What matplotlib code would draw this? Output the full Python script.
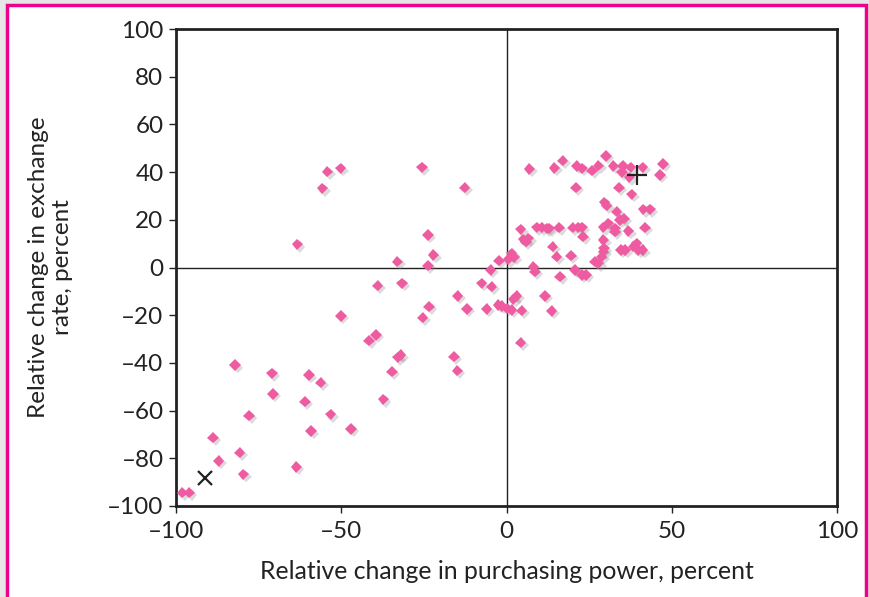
import matplotlib
matplotlib.use("Agg")
import matplotlib.pyplot as plt
import matplotlib.patheffects as pe
from matplotlib.patches import Rectangle

# Data: relative change in purchasing power (x) vs exchange rate (y), percent
x_vals = [
    -54.2, -50.2, -55.7, -25.6, -12.7, -63.3, -23.8, -22.1, -33.0, -23.8, -2.3, -4.8,
    6.9, 14.5, 17.0, 21.2, 22.8, 25.9, 27.8, 30.1, 32.3, 35.2, 34.9, 37.6, 37.2, 41.2,
    47.4, 46.4, 21.0, 34.0, 37.9, 29.6, 30.3, 33.3, 41.4, 43.4, 34.3, 35.5, 30.8, 29.3,
    32.8, 32.8, 36.9, 41.9, 4.3, 9.1, 10.6, 12.2, 13.0, 15.9, 20.0, 21.7, 22.8, 23.2,
    5.1, 6.6, 5.9, 29.3, 14.0, 15.2, 19.5, 29.5, 29.3, 28.8, 34.6, 35.9, 38.4, 39.4,
    41.2, 39.9, 26.8, 27.8, 20.7, 1.6, 2.3, 0.6, 8.1, 8.6, 16.2, 22.8, 24.1,
    3.1, 2.1, 11.6, 0.1, 1.6, 4.6, 13.7, 4.3,
    -39.0, -31.6, -7.5, -4.5, -14.8, -12.0, -23.4, -25.4, -6.0, -2.5, -1.5, -50.1,
    -41.6, -39.5, -32.9, -32.0, -34.7, -15.9, -14.9, -37.3, -82.1, -71.0, -70.7, -59.8,
    -56.2, -61.0, -53.2, -77.9, -59.1, -47.0, -88.8, -80.7, -87.1, -79.6, -63.6,
    -98.1, -96.0,
]
y_vals = [
    40.2, 41.6, 33.2, 42.0, 33.5, 9.7, 13.6, 5.2, 2.4, 0.8, 2.9, -1.0,
    41.3, 41.8, 44.8, 42.6, 41.6, 40.6, 42.7, 46.8, 42.6, 42.6, 39.9, 42.0, 37.8, 42.0,
    43.4, 38.8, 33.5, 33.5, 30.7, 27.3, 25.9, 23.4, 24.4, 24.4, 19.9, 20.5, 18.5, 16.8,
    16.4, 15.0, 15.3, 16.7, 16.0, 16.8, 16.8, 16.4, 16.4, 16.7, 16.7, 16.8, 16.8, 12.9,
    11.8, 12.2, 10.8, 11.5, 8.7, 4.5, 5.0, 8.0, 6.6, 4.5, 7.3, 7.3, 8.7, 10.1,
    7.3, 7.3, 2.4, 1.7, -1.0, 5.9, 4.3, 3.4, 0.3, -1.8, -3.8, -3.1, -3.1,
    -11.9, -13.3, -11.9, -17.1, -17.8, -18.1, -18.2, -31.5,
    -7.6, -6.6, -6.6, -8.0, -11.9, -17.4, -16.4, -21.0, -17.4, -15.7, -16.1, -20.3,
    -30.7, -28.3, -37.7, -36.7, -43.7, -37.4, -43.3, -55.3, -40.9, -44.4, -53.0, -45.1,
    -48.3, -56.3, -61.6, -62.1, -68.6, -67.7, -71.4, -77.6, -81.1, -86.7, -83.6,
    -94.4, -94.4,
]
plus_point = (39.4, 38.8)
cross_point = (-91.2, -88.1)
ticks = [-100, -50, 0, 50, 100]
yticks = [-100, -80, -60, -40, -20, 0, 20, 40, 60, 80, 100]

plt.rcParams['font.family'] = ['Lato', 'DejaVu Sans']

fig = plt.figure(figsize=(8.69, 5.97), dpi=100)
fig.patch.set_facecolor('#e6e6e6')
# white panel with magenta border
panel = Rectangle((6.5 / 869, -0.05), (865.5 - 6.5) / 869, 1.05 - 5.5 / 597,
                  transform=fig.transFigure, facecolor='white',
                  edgecolor='#ec008c', linewidth=2.5, zorder=-10)
fig.add_artist(panel)

ax = fig.add_axes([176 / 869, 1 - 506 / 597, (837 - 176) / 869, (506 - 29) / 597])
ax.set_zorder(1)
ax.set_xlim(-100, 100)
ax.set_ylim(-100, 100)
ax.axhline(0, color='#222222', lw=1.0, zorder=1)
ax.axvline(0, color='#222222', lw=1.0, zorder=1)

ax.plot(x_vals, y_vals, linestyle='none', marker='D', markersize=5.8,
        color='#ef5ba1', markeredgewidth=0, zorder=3,
        path_effects=[pe.SimplePatchShadow(offset=(1.8, -1.8), shadow_rgbFace='#888888', alpha=0.3),
                      pe.Normal()])
ax.plot(*plus_point, marker='+', markersize=15, color='#222222', markeredgewidth=1.6, zorder=4)
ax.plot(*cross_point, marker='x', markersize=10.5, color='#222222', markeredgewidth=1.6, zorder=4)

ax.set_xticks(ticks)
ax.set_yticks(yticks)
ax.set_xticklabels([str(t).replace('-', '\u2013') for t in ticks])
ax.set_yticklabels([str(t).replace('-', '\u2013') for t in yticks])
ax.tick_params(direction='out', length=5, width=1, labelsize=17.5, colors='#222222')
ax.tick_params(axis='x', pad=6)
ax.tick_params(axis='y', pad=4)
for s in ax.spines.values():
    s.set_linewidth(2)
    s.set_color('#222222')

ax.set_xlabel('Relative change in purchasing power, percent', fontsize=17.8, color='#222222', labelpad=13)
ax.set_ylabel('Relative change in exchange\nrate, percent', fontsize=17.5, color='#222222')
ax.yaxis.set_label_coords(-(176 - 73) / 661, 0.5)

fig.savefig('out.png', dpi=100, facecolor=fig.get_facecolor())
